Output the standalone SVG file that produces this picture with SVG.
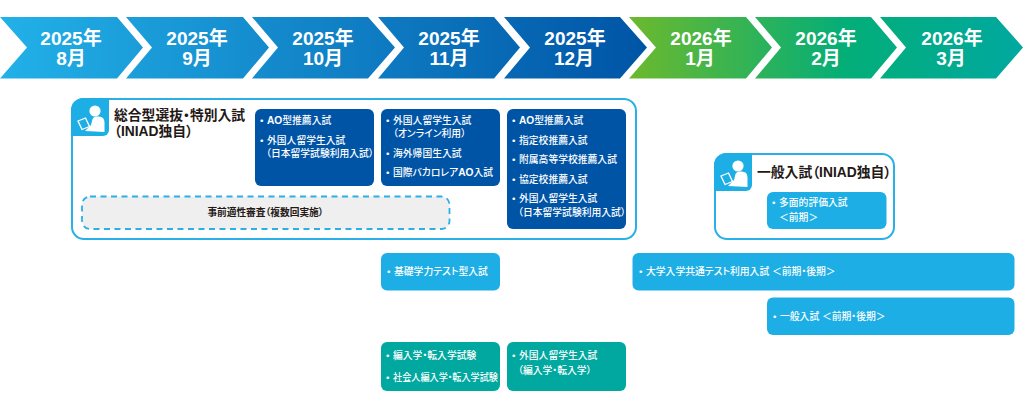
<svg xmlns="http://www.w3.org/2000/svg" xmlns:xlink="http://www.w3.org/1999/xlink" width="1024" height="410" viewBox="0 0 1024 410">
<style>
text{font-family:"Liberation Sans","Noto Sans CJK JP",sans-serif;font-feature-settings:"palt";}
.m{font-size:19px;font-weight:700;fill:#fff;text-anchor:middle;}
.t{font-size:9.8px;font-weight:500;fill:#fff;}
.b{font-weight:700;font-size:10.200px;}
.h{font-size:13.8px;font-weight:700;fill:#231815;}
.d{font-size:9.7px;font-weight:700;fill:#231815;text-anchor:middle;}
.navy{fill:#0054a6;}
.sky{fill:#1eaee6;}
.teal{fill:#00a8a0;}
.frame{fill:#fff;stroke:#29b0e6;stroke-width:2;}
</style>
<defs>
<linearGradient id="gb" gradientUnits="userSpaceOnUse" x1="0" y1="0" x2="647" y2="0"><stop offset="0" stop-color="#22b1e8"/><stop offset="1" stop-color="#0054a6"/></linearGradient>
<linearGradient id="gg" gradientUnits="userSpaceOnUse" x1="629" y1="0" x2="1023" y2="0"><stop offset="0" stop-color="#6cb92d"/><stop offset=".55" stop-color="#03ae78"/><stop offset="1" stop-color="#00a8a0"/></linearGradient>
<g id="ic">
<circle cx="24" cy="13" r="5.6" fill="#fff"/>
<path d="M14 33l6-6 1.500-6q1-2.500 4-2.500h2q6 0 6 6v9.500z" fill="#fff"/>
<path d="M7 23l7.500-3 4 8.500-7.500 3z" fill="#1eaee6" stroke="#fff" stroke-width="1.300"/>
</g>
</defs>
<g id="timeline">
<g id="m1"><path fill="url(#gb)" d="M0 17H117L143 47.500 117 78.500H0L27 47.500Z"/><text class="m" x="71" y="45">2025年</text><text class="m" x="71" y="65">8月</text></g>
<g id="m2"><path fill="url(#gb)" d="M126 17H243L269 47.500 243 78.500H126L152 47.500Z"/><text class="m" x="197" y="45">2025年</text><text class="m" x="197" y="65">9月</text></g>
<g id="m3"><path fill="url(#gb)" d="M252 17H368L395 47.500 368 78.500H252L278 47.500Z"/><text class="m" x="323" y="45">2025年</text><text class="m" x="323" y="65">10月</text></g>
<g id="m4"><path fill="url(#gb)" d="M378 17H494L520 47.500 494 78.500H378L404 47.500Z"/><text class="m" x="449" y="45">2025年</text><text class="m" x="449" y="65">11月</text></g>
<g id="m5"><path fill="url(#gb)" d="M504 17H620L647 47.500 620 78.500H504L530 47.500Z"/><text class="m" x="575" y="45">2025年</text><text class="m" x="574" y="65">12月</text></g>
<g id="m6"><path fill="url(#gg)" d="M629 17H746L772 47.500 746 78.500H629L656 47.500Z"/><text class="m" x="701" y="45">2026年</text><text class="m" x="700" y="65">1月</text></g>
<g id="m7"><path fill="url(#gg)" d="M755 17H871L897 47.500 871 78.500H755L781 47.500Z"/><text class="m" x="826" y="45">2026年</text><text class="m" x="826" y="65">2月</text></g>
<g id="m8"><path fill="url(#gg)" d="M880 17H996L1023 47.500 996 78.500H880L906 47.500Z"/><text class="m" x="952" y="45">2026年</text><text class="m" x="951" y="65">3月</text></g>
</g>
<g id="connectors"></g>
<g id="comprehensive">
<rect class="frame" x="72" y="99" width="564" height="140" rx="12"/>
<path class="sky" d="M71 110a12 12 0 0 1 12-12H109V130a6 6 0 0 1-6 6H71Z"/>
<use xlink:href="#ic" href="#ic" x="71" y="98"/>
<text class="h" x="114" y="120">総合型選抜・特別入試</text>
<text class="h" x="114" y="136">（INIAD独自）</text>
</g>
<g id="box-oct">
<rect class="navy" x="255" y="109" width="119" height="77" rx="6"/>
<text class="t" y="124.300"><tspan x="260">•</tspan><tspan x="267" class="b">AO</tspan><tspan>型推薦入試</tspan></text>
<text class="t" y="143.500"><tspan x="260">•</tspan><tspan x="267">外国人留学生入試</tspan></text>
<text class="t" x="266" y="157">（日本留学試験利用入試）</text>
</g>
<g id="box-nov">
<rect class="navy" x="381" y="109" width="119" height="77" rx="6"/>
<text class="t" y="124.200"><tspan x="386">•</tspan><tspan x="393">外国人留学生入試</tspan></text>
<text class="t" x="393" y="137">（オンライン利用）</text>
<text class="t" y="156.500"><tspan x="386">•</tspan><tspan x="393">海外帰国生入試</tspan></text>
<text class="t" y="176.400"><tspan x="386">•</tspan><tspan x="393">国際バカロレア</tspan><tspan class="b">AO</tspan><tspan>入試</tspan></text>
</g>
<g id="box-dec">
<rect class="navy" x="507" y="109" width="119" height="120" rx="6"/>
<text class="t" y="124.200"><tspan x="512">•</tspan><tspan x="519" class="b">AO</tspan><tspan>型推薦入試</tspan></text>
<text class="t" y="143.500"><tspan x="512">•</tspan><tspan x="519">指定校推薦入試</tspan></text>
<text class="t" y="163.400"><tspan x="512">•</tspan><tspan x="519">附属高等学校推薦入試</tspan></text>
<text class="t" y="182.500"><tspan x="512">•</tspan><tspan x="519">協定校推薦入試</tspan></text>
<text class="t" y="202"><tspan x="512">•</tspan><tspan x="519">外国人留学生入試</tspan></text>
<text class="t" x="518" y="215.500">（日本留学試験利用入試）</text>
</g>
<g id="aptitude">
<rect x="82" y="196.500" width="367.500" height="32.500" rx="8" fill="#efefef" stroke="#29b0e6" stroke-width="1.800" stroke-dasharray="6 4.500"/>
<text class="d" x="265.500" y="216">事前適性審査（複数回実施）</text>
</g>
<g id="general">
<rect class="frame" x="715" y="154" width="179" height="85" rx="12"/>
<path class="sky" d="M714 165a12 12 0 0 1 12-12H752V185a6 6 0 0 1-6 6H714Z"/>
<use xlink:href="#ic" href="#ic" x="714" y="153"/>
<text class="h" x="757" y="177">一般入試（INIAD独自）</text>
<rect class="sky" x="767" y="192" width="119.500" height="37" rx="6"/>
<text class="t" y="206"><tspan x="772">•</tspan><tspan x="779">多面的評価入試</tspan></text>
<text class="t" x="779" y="221">＜前期＞</text>
</g>
<g id="basic-test">
<rect class="sky" x="381" y="253" width="119" height="37.500" rx="6"/>
<text class="t" y="275"><tspan x="387">•</tspan><tspan x="394">基礎学力テスト型入試</tspan></text>
</g>
<g id="common-test">
<rect class="sky" x="632.500" y="253" width="382" height="37.500" rx="6"/>
<text class="t" y="275"><tspan x="639">•</tspan><tspan x="646">大学入学共通テスト利用入試 ＜前期・後期＞</tspan></text>
</g>
<g id="general-exam">
<rect class="sky" x="767" y="297.500" width="247.500" height="37.500" rx="6"/>
<text class="t" y="320"><tspan x="773">•</tspan><tspan x="780">一般入試 ＜前期・後期＞</tspan></text>
</g>
<g id="transfer">
<rect class="teal" x="381" y="342" width="119" height="49" rx="6"/>
<text class="t" y="359"><tspan x="386">•</tspan><tspan x="393">編入学・転入学試験</tspan></text>
<text class="t" x="386" y="380.700">•</text>
<text class="t" x="393" y="380.700" textLength="105" lengthAdjust="spacingAndGlyphs">社会人編入学・転入学試験</text>
</g>
<g id="transfer-intl">
<rect class="teal" x="507" y="342" width="119" height="49" rx="6"/>
<text class="t" y="359"><tspan x="512">•</tspan><tspan x="519">外国人留学生入試</tspan></text>
<text class="t" x="518" y="373.500">（編入学・転入学）</text>
</g>
</svg>
